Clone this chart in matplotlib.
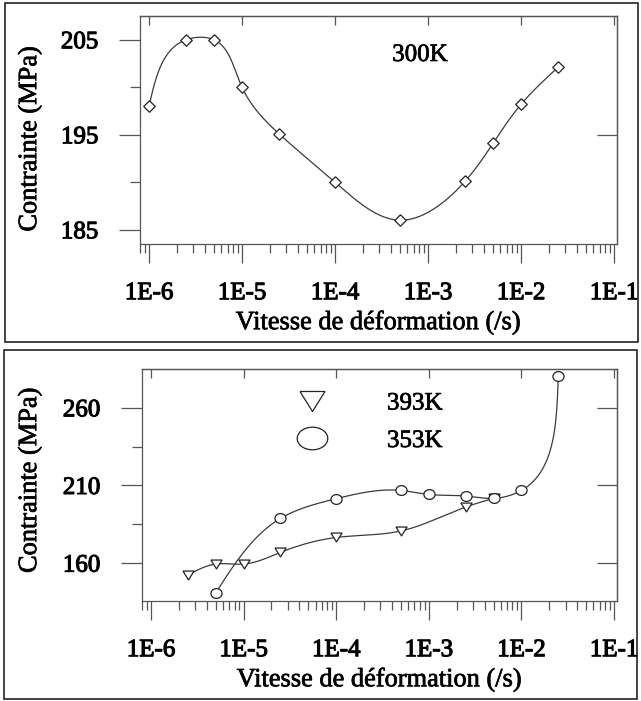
import numpy as np
import matplotlib
matplotlib.use("Agg")
import matplotlib.pyplot as plt
import matplotlib.patheffects as pe
from matplotlib.ticker import FixedLocator, LogLocator, NullFormatter, NullLocator
from matplotlib.patches import Rectangle
from matplotlib.lines import Line2D

plt.rcParams['font.family'] = ['Liberation Serif', 'DejaVu Serif']

# ---- data ----
rates_300 = [1e-6, 2.5e-6, 5e-6, 1e-5, 2.5e-5, 1e-4, 5e-4, 2.5e-3, 5e-3, 1e-2, 2.5e-2]
stress_300 = [198.0, 205.0, 205.0, 200.0, 195.1, 190.0, 186.0, 190.1, 194.1, 198.2, 202.1]

rates_393 = [2.5e-6, 5e-6, 1e-5, 2.5e-5, 1e-4, 5e-4, 2.5e-3, 5e-3]
stress_393 = [152.3, 159.4, 159.4, 166.9, 176.5, 180.7, 196.1, 201.7]

rates_353 = [5e-6, 2.5e-5, 1e-4, 5e-4, 1e-3, 2.5e-3, 5e-3, 1e-2, 2.5e-2]
stress_353 = [140.8, 188.8, 201.5, 206.8, 204.2, 203.2, 201.7, 206.8, 280.5]

decades = [1e-6, 1e-5, 1e-4, 1e-3, 1e-2, 1e-1]
decade_labels = ['1E-6', '1E-5', '1E-4', '1E-3', '1E-2', '1E-1']

yticks_top = [185, 195, 205]
yminor_top = [190, 200]
yticks_bot = [160, 210, 260]
yminor_bot = [185, 235]

XLABEL = "Vitesse de déformation (/s)"
YLABEL = "Contrainte (MPa)"

W, H = 641, 701
AXCOL = '#555555'
LINECOL = '#3a3a3a'
INK = [pe.withStroke(linewidth=0.5, foreground='black')]      # scanned print looks a bit heavy
INK_TICK = [pe.withStroke(linewidth=0.8, foreground='black')]

# marker shapes
diamond = [(0, 1), (1, 0), (0, -1), (-1, 0), (0, 1)]
tri_down = [(-1, 0.8), (1, 0.8), (0, -0.8), (-1, 0.8)]
th = np.linspace(0, 2 * np.pi, 60)
ring = list(zip(np.cos(th), 0.88 * np.sin(th)))
ring_wide = list(zip(np.cos(th), 0.74 * np.sin(th)))


def natural_spline(t, v, tt):
    n = len(t)
    h = np.diff(t)
    A = np.zeros((n, n))
    r = np.zeros(n)
    A[0, 0] = A[-1, -1] = 1
    for i in range(1, n - 1):
        A[i, i - 1] = h[i - 1]
        A[i, i] = 2 * (h[i - 1] + h[i])
        A[i, i + 1] = h[i]
        r[i] = 6 * ((v[i + 1] - v[i]) / h[i] - (v[i] - v[i - 1]) / h[i - 1])
    m = np.linalg.solve(A, r)
    i = np.clip(np.searchsorted(t, tt) - 1, 0, n - 2)
    a = (t[i + 1] - tt) / h[i]
    b = (tt - t[i]) / h[i]
    return a * v[i] + b * v[i + 1] + ((a ** 3 - a) * m[i] + (b ** 3 - b) * m[i + 1]) * h[i] ** 2 / 6


def smooth_curve(ax, x, y):
    # parametric spline in display space (like the old plotting program did)
    pts = ax.transData.transform(np.column_stack([x, y]))
    t = np.concatenate([[0], np.cumsum(np.hypot(*np.diff(pts, axis=0).T))])
    tt = np.linspace(0, t[-1], 600)
    px = natural_spline(t, pts[:, 0], tt)
    py = natural_spline(t, pts[:, 1], tt)
    out = ax.transData.inverted().transform(np.column_stack([px, py]))
    return out[:, 0], out[:, 1]


def setup_axes(ax, ylim, majors, minors, right_ticks):
    ax.set_xscale('log')
    ax.set_xlim(10 ** -6.097, 10 ** -0.968)
    ax.set_ylim(*ylim)
    for s in ax.spines.values():
        s.set_color(AXCOL)
        s.set_linewidth(0.9)
    ax.set_xticks(decades, decade_labels)
    ax.xaxis.set_minor_locator(LogLocator(base=10, subs=np.arange(2, 10), numticks=30))
    ax.xaxis.set_minor_formatter(NullFormatter())
    ax.set_yticks(majors)
    ax.yaxis.set_minor_locator(FixedLocator(minors))
    ax.tick_params(axis='both', which='both', direction='out', color=AXCOL,
                   width=0.9, labelsize=18, top=False, right=False)
    ax.tick_params(axis='x', which='major', length=14, pad=13.5)
    ax.tick_params(axis='x', which='minor', length=6.5)
    ax.tick_params(axis='y', which='major', length=15, pad=15)
    ax.tick_params(axis='y', which='minor', length=7)
    for lab in ax.get_xticklabels() + ax.get_yticklabels():
        lab.set_path_effects(INK_TICK)

    top = ax.secondary_xaxis('top')
    top.set_xticks(decades)
    top.xaxis.set_minor_locator(NullLocator())
    top.tick_params(direction='in', length=6.5, width=0.9, color=AXCOL, labeltop=False)
    top.spines['top'].set_color(AXCOL)
    top.spines['top'].set_linewidth(0.9)

    rgt = ax.secondary_yaxis('right')
    rgt.set_yticks(right_ticks)
    rgt.yaxis.set_minor_locator(NullLocator())
    rgt.tick_params(direction='in', length=14.5, width=0.9, color=AXCOL, labelright=False)
    rgt.spines['right'].set_color(AXCOL)
    rgt.spines['right'].set_linewidth(0.9)

    ax.set_xlabel(XLABEL, fontsize=19, path_effects=INK)
    ax.set_ylabel(YLABEL, fontsize=19, path_effects=INK)
    ax.xaxis.label.set_va('center')
    ax.yaxis.label.set_va('center')


fig = plt.figure(figsize=(W / 100, H / 100), dpi=100)

# ---------- top panel : 300 K ----------
ax1 = fig.add_axes([140 / W, 1 - 244 / H, 477 / W, 228 / H])
setup_axes(ax1, (183.5, 207.5), yticks_top, yminor_top, [195])
ax1.xaxis.set_label_coords(0.5, -0.346)
ax1.yaxis.set_label_coords(-0.2306, 0.4605)

cx, cy = smooth_curve(ax1, rates_300, stress_300)
ax1.plot(cx, cy, color=LINECOL, lw=0.9)
ax1.plot(rates_300, stress_300, ls='none', marker=diamond, ms=8.3, mfc='white',
         mec='#222222', mew=0.9)
ax1.text(0.587, 0.829, "300K", transform=ax1.transAxes, fontsize=18,
         ha='center', va='center', path_effects=INK)

# ---------- bottom panel : 393 K / 353 K ----------
ax2 = fig.add_axes([142 / W, 1 - 601 / H, 475 / W, 232 / H])
setup_axes(ax2, (135.6, 285.0), yticks_bot, yminor_bot, yticks_bot)
ax2.xaxis.set_label_coords(0.5, -0.3405)
ax2.yaxis.set_label_coords(-0.2358, 0.52)

cx, cy = smooth_curve(ax2, rates_393, stress_393)
ax2.plot(cx, cy, color=LINECOL, lw=0.9)
cx, cy = smooth_curve(ax2, rates_353, stress_353)
ax2.plot(cx, cy, color=LINECOL, lw=0.9)
ax2.plot(rates_393, stress_393, ls='none', marker=tri_down, ms=8, mfc='white',
         mec='#222222', mew=0.9)
ax2.plot(rates_353, stress_353, ls='none', marker=ring, ms=8, mfc='white',
         mec='#222222', mew=0.9)

handles = [
    Line2D([], [], ls='none', marker=tri_down, ms=18, mfc='white', mec='#222222', mew=0.9),
    Line2D([], [], ls='none', marker=ring_wide, ms=22, mfc='white', mec='#222222', mew=0.9),
]
leg = fig.legend(handles, ['393K', '353K'], loc='upper left',
                 bbox_to_anchor=(297 / W, 1 - 392 / H), frameon=False, fontsize=18,
                 handlelength=1.2, handletextpad=2.4, labelspacing=0.6,
                 borderpad=0, borderaxespad=0)
for t in leg.get_texts():
    t.set_path_effects(INK)

# ---------- panel frames ----------
fig.add_artist(Rectangle((5 / W, 1 - 342 / H), 633 / W, 339 / H, transform=fig.transFigure,
                         fill=False, lw=1.1, ec='#111111'))
fig.add_artist(Rectangle((4 / W, 1 - 699 / H), 633 / W, 349 / H, transform=fig.transFigure,
                         fill=False, lw=1.1, ec='#111111'))

fig.savefig('out.png', dpi=100)
